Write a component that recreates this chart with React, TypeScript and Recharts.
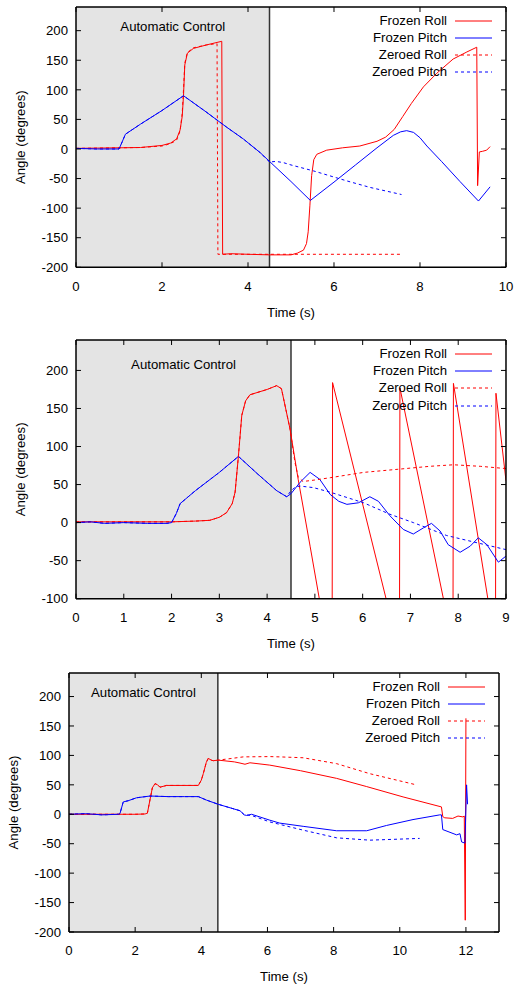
import { LineChart, Line, XAxis, YAxis, ReferenceArea, ReferenceLine } from 'recharts';

type Pt = [number, number];

const FONT = '"Liberation Sans", Arial, Helvetica, sans-serif';
const FS = 13.2;

const seriesNames = ['Frozen Roll', 'Frozen Pitch', 'Zeroed Roll', 'Zeroed Pitch'];
const seriesColors = ['#ff0000', '#0000ff', '#ff0000', '#0000ff'];
const seriesDashed = [false, false, true, true];

// --- panel 1 ---
const p1XTicks = [0, 2, 4, 6, 8, 10];
const p1YTicks = [-200, -150, -100, -50, 0, 50, 100, 150, 200];
const p1FrozenRoll: Pt[] = [
  [0, 1], [0.5, 1.5], [1, 2], [1.5, 2.5], [2, 6], [2.2, 10], [2.34, 17], [2.42, 32], [2.47, 55], [2.5, 90],
  [2.53, 142], [2.59, 162], [2.73, 170], [3.04, 176], [3.39, 182], [3.41, -178], [3.6, -177], [4.0, -178],
  [4.5, -179], [5.0, -179], [5.15, -176], [5.29, -171], [5.36, -160], [5.4, -140], [5.44, -95], [5.48, -45],
  [5.53, -18], [5.6, -9], [5.83, -2], [6.2, 2], [6.6, 5], [7.0, 13], [7.2, 20], [7.4, 33], [7.6, 55], [7.8, 77],
  [8.08, 105], [8.39, 128], [8.77, 152], [9.09, 164], [9.32, 172], [9.34, -62], [9.38, -5], [9.45, -4],
  [9.55, -2], [9.63, 4],
];
const p1FrozenPitch: Pt[] = [
  [0, 1], [0.5, 0], [1.0, 0], [1.05, 8], [1.15, 25], [1.5, 42], [2.0, 65], [2.5, 90], [3.0, 64], [3.5, 37],
  [3.89, 17], [4.28, -6], [4.5, -21], [5.0, -55], [5.45, -87], [6.0, -56], [6.5, -27], [7.0, 2], [7.38, 23],
  [7.55, 29], [7.69, 31], [7.85, 28], [8.0, 19], [8.16, 5], [8.5, -21], [8.93, -55], [9.36, -88], [9.63, -64],
];
const p1ZeroedRoll: Pt[] = [
  [0, 1], [0.5, 1.5], [1, 2], [1.5, 2.5], [2, 5], [2.2, 9], [2.34, 15], [2.42, 30], [2.47, 60], [2.5, 100],
  [2.53, 145], [2.59, 163], [2.73, 171], [3.04, 176], [3.28, 178], [3.3, -178], [4.0, -178], [5.0, -178],
  [6.0, -178], [7.0, -178], [7.55, -178],
];
const p1ZeroedPitch: Pt[] = [
  [0, 1], [0.5, 0], [1.0, 0], [1.05, 8], [1.15, 25], [1.5, 42], [2.0, 65], [2.5, 90], [3.0, 64], [3.5, 37],
  [3.89, 17], [4.28, -6], [4.5, -22], [4.65, -21], [4.82, -23], [5.0, -27], [5.52, -37], [6.3, -54],
  [6.84, -65], [7.57, -77],
];

// --- panel 2 ---
const p2XTicks = [0, 1, 2, 3, 4, 5, 6, 7, 8, 9];
const p2YTicks = [-100, -50, 0, 50, 100, 150, 200];
const p2FrozenRoll: Pt[] = [
  [0, 1], [1, 1], [2, 1], [2.5, 2], [2.8, 3], [3.0, 7], [3.15, 13], [3.27, 25], [3.33, 40], [3.4, 88],
  [3.47, 141], [3.55, 160], [3.64, 168], [4.0, 175], [4.2, 180], [4.3, 176], [4.48, 123], [4.65, 57],
  [4.9, -31], [5.09, -99], [5.36, -185], [5.37, 184], [6.49, -100], [6.77, -174], [6.78, 177], [7.69, -100],
  [7.89, -165], [7.9, 183], [8.62, -100], [8.78, -165], [8.79, 170], [9.0, 55],
];
const p2FrozenPitch: Pt[] = [
  [0, 0], [0.3, 1], [0.6, -1], [1.0, 0], [1.5, -1], [1.9, -1], [2.0, 0], [2.1, 12], [2.18, 25], [2.5, 42],
  [3.0, 66], [3.4, 87], [3.8, 64], [4.2, 42], [4.41, 34], [4.5, 38], [4.69, 53], [4.9, 66], [5.1, 57],
  [5.32, 37], [5.5, 28], [5.67, 24], [5.91, 26], [6.15, 34], [6.33, 28], [6.57, 9], [6.85, -9], [7.06, -15],
  [7.27, -7], [7.44, -1], [7.62, -11], [7.79, -29], [8.04, -39], [8.25, -31], [8.42, -20], [8.6, -29],
  [8.84, -52], [9.0, -44],
];
const p2ZeroedRoll: Pt[] = [
  [0, 1], [1, 1], [2, 1], [2.5, 2], [2.8, 3], [3.0, 7], [3.15, 13], [3.27, 25], [3.33, 40], [3.4, 88],
  [3.47, 141], [3.55, 160], [3.64, 168], [4.0, 175], [4.2, 180], [4.3, 176], [4.48, 123], [4.58, 80],
  [4.65, 60], [4.75, 54], [5.0, 56], [5.32, 59], [6.02, 66], [6.72, 70], [7.41, 74], [7.9, 76], [8.46, 74],
  [9.0, 71],
];
const p2ZeroedPitch: Pt[] = [
  [0, 0], [0.3, 1], [0.6, -1], [1.0, 0], [1.5, -1], [1.9, -1], [2.0, 0], [2.1, 12], [2.18, 25], [2.5, 42],
  [3.0, 66], [3.4, 87], [3.8, 64], [4.2, 42], [4.41, 34], [4.5, 42], [4.6, 47], [4.69, 48], [4.97, 46],
  [5.32, 40], [6.02, 26], [6.57, 11], [7.06, 0], [7.76, -17], [8.46, -27.5], [9.0, -35.5],
];

// --- panel 3 ---
const p3XTicks = [0, 2, 4, 6, 8, 10, 12];
const p3YTicks = [-200, -150, -100, -50, 0, 50, 100, 150, 200];
const p3FrozenRoll: Pt[] = [
  [0, 0], [1, 0], [2, 0], [2.3, 0.5], [2.37, 2], [2.45, 25], [2.52, 45], [2.6, 52], [2.68, 50], [2.75, 46],
  [2.95, 49], [3.5, 49], [3.91, 49], [4.0, 58], [4.06, 69], [4.15, 88], [4.21, 95], [4.3, 92], [4.36, 91],
  [4.51, 92], [5.0, 89], [5.17, 87], [5.32, 85], [5.47, 87.5], [6.07, 83.5], [7.0, 74], [8.09, 61], [9.0, 47],
  [10.1, 29.5], [11.26, 12.5], [11.3, -4], [11.36, -6], [11.6, -7], [11.76, -3], [11.91, -4.5], [11.95, -3],
  [11.98, -180], [12.0, 163],
];
const p3FrozenPitch: Pt[] = [
  [0, 0], [0.5, 1], [1.0, -1], [1.5, 0], [1.54, 1], [1.64, 21], [1.79, 23], [2.04, 28], [2.45, 31], [3.0, 30],
  [3.5, 30], [3.91, 30], [4.16, 24], [4.51, 17], [5.17, 6], [5.3, -1], [5.37, -2], [5.52, 0], [6.07, -10],
  [6.37, -15], [7.08, -20.5], [8.09, -28], [9.0, -28], [9.6, -19], [10.4, -9], [11.21, -1], [11.26, -1],
  [11.3, -26], [11.72, -35], [11.82, -33], [11.87, -47], [11.97, -49], [12.02, 50], [12.05, 17],
];
const p3ZeroedRoll: Pt[] = [
  [0, 0], [1, 0], [2, 0], [2.3, 0.5], [2.37, 2], [2.45, 25], [2.52, 45], [2.6, 52], [2.68, 50], [2.75, 46],
  [2.95, 49], [3.5, 49], [3.91, 49], [4.0, 58], [4.06, 69], [4.15, 88], [4.21, 95], [4.3, 92], [4.36, 91],
  [4.51, 92], [4.8, 94], [5.27, 97.5], [6.07, 98], [6.37, 97.5], [7.08, 96], [8.09, 86], [9.09, 69],
  [10.5, 50],
];
const p3ZeroedPitch: Pt[] = [
  [0, 0], [0.5, 1], [1.0, -1], [1.5, 0], [1.54, 1], [1.64, 21], [1.79, 23], [2.04, 28], [2.45, 31], [3.0, 30],
  [3.5, 30], [3.91, 30], [4.16, 24], [4.51, 17], [5.17, 6], [5.3, -1], [5.52, -2], [6.07, -13], [7.08, -27],
  [8.09, -40], [9.09, -44], [10.6, -41],
];

const toRows = (pts: Pt[]) => pts.map(([t, v]) => ({ t, v }));

type PanelProps = {
  plotTop: number;
  plotLeft: number;
  plotRight: number;
  plotHeight: number;
  xMax: number;
  xTicks: number[];
  yMin: number;
  yTicks: number[];
  series: Pt[][];
  autoOffset: number;
};

const AXIS_LINE = { stroke: '#000', strokeWidth: 1.5 };
const TICK_LINE = { stroke: '#000', strokeWidth: 1 };
const noTick = () => <g />;

function LegendBox({ plotRight }: { plotRight: number }) {
  return (
    <div style={{ position: 'absolute', top: 0, left: 0, width: 521, pointerEvents: 'none' }}>
      {seriesNames.map((name, i) => (
        <div
          key={name}
          style={{ position: 'absolute', top: 7 + 14 + i * 17.2 - 9, left: 0, width: plotRight - 14, height: 18, display: 'flex', alignItems: 'center', justifyContent: 'flex-end' }}
        >
          <span style={{ fontSize: FS, color: '#000', lineHeight: '18px' }}>{name}</span>
          <svg width={45} height={18} style={{ display: 'block' }}>
            <line x1={8} x2={45} y1={9} y2={9} stroke={seriesColors[i]} strokeWidth={1} strokeDasharray={seriesDashed[i] ? '3 3' : undefined} />
          </svg>
        </div>
      ))}
    </div>
  );
}

function Panel({ plotTop, plotLeft, plotRight, plotHeight, xMax, xTicks, yMin, yTicks, series, autoOffset }: PanelProps) {
  const axisH = 55;
  const height = 7 + plotHeight + axisH;
  const domainX: [number, number] = [0, xMax];
  const domainY: [number, number] = [yMin, 240];
  return (
    <div style={{ position: 'absolute', left: 0, top: plotTop - 7, width: 521, height }}>
      <LineChart width={521} height={height} margin={{ top: 6, right: 521 - plotRight - 1, bottom: 0, left: 0 }}>
        <ReferenceArea
          xAxisId="b"
          yAxisId="l"
          x1={0}
          x2={4.5}
          fill="#e4e4e4"
          fillOpacity={1}
          stroke="none"
          label={{ value: 'Automatic Control', position: 'insideTop', offset: autoOffset, fill: '#000', fontSize: FS }}
        />
        <XAxis
          xAxisId="b"
          type="number"
          dataKey="t"
          domain={domainX}
          ticks={xTicks}
          interval={0}
          allowDataOverflow
          height={axisH}
          tickSize={-5}
          tickMargin={19}
          axisLine={AXIS_LINE}
          tickLine={TICK_LINE}
          tick={{ fill: '#000', fontSize: FS }}
          label={{ value: 'Time (s)', position: 'insideBottom', offset: axisH - 49.3, fill: '#000', fontSize: FS }}
        />
        <XAxis
          xAxisId="t"
          orientation="top"
          type="number"
          dataKey="t"
          domain={domainX}
          ticks={xTicks}
          interval={0}
          allowDataOverflow
          height={1}
          tickSize={-5}
          axisLine={AXIS_LINE}
          tickLine={TICK_LINE}
          tick={noTick}
        />
        <YAxis
          yAxisId="l"
          type="number"
          domain={domainY}
          ticks={yTicks}
          interval={0}
          allowDataOverflow
          width={plotLeft}
          tickSize={-5}
          tickMargin={13}
          axisLine={AXIS_LINE}
          tickLine={TICK_LINE}
          tick={{ fill: '#000', fontSize: FS }}
          label={{ value: 'Angle (degrees)', angle: -90, position: 'insideLeft', offset: plotLeft - 56, fill: '#000', fontSize: FS, style: { textAnchor: 'middle' } }}
        />
        <YAxis
          yAxisId="r"
          orientation="right"
          type="number"
          domain={domainY}
          ticks={yTicks}
          interval={0}
          allowDataOverflow
          width={1}
          tickSize={-5}
          axisLine={AXIS_LINE}
          tickLine={TICK_LINE}
          tick={noTick}
        />
        <ReferenceLine xAxisId="b" yAxisId="l" x={4.5} stroke="#333" strokeWidth={1.5} />
        {series.map((pts, i) => (
          <Line
            key={seriesNames[i]}
            xAxisId="b"
            yAxisId="l"
            data={toRows(pts)}
            dataKey="v"
            name={seriesNames[i]}
            type="linear"
            stroke={seriesColors[i]}
            strokeWidth={1}
            strokeDasharray={seriesDashed[i] ? '3 3' : undefined}
            dot={false}
            activeDot={false}
            isAnimationActive={false}
          />
        ))}
      </LineChart>
      <LegendBox plotRight={plotRight} />
    </div>
  );
}

export default function App() {
  return (
    <div style={{ position: 'absolute', left: 0, top: 0, width: 521, height: 986, overflow: 'hidden', background: '#fff', fontFamily: FONT }}>
      <Panel
        plotTop={6.7}
        plotLeft={76}
        plotRight={506}
        plotHeight={260.3}
        xMax={10}
        xTicks={p1XTicks}
        yMin={-200}
        yTicks={p1YTicks}
        series={[p1FrozenRoll, p1FrozenPitch, p1ZeroedRoll, p1ZeroedPitch]}
        autoOffset={15}
      />
      <Panel
        plotTop={340}
        plotLeft={76}
        plotRight={506}
        plotHeight={258.7}
        xMax={9}
        xTicks={p2XTicks}
        yMin={-100}
        yTicks={p2YTicks}
        series={[p2FrozenRoll, p2FrozenPitch, p2ZeroedRoll, p2ZeroedPitch]}
        autoOffset={19.5}
      />
      <Panel
        plotTop={672.7}
        plotLeft={69}
        plotRight={499}
        plotHeight={259}
        xMax={13}
        xTicks={p3XTicks}
        yMin={-200}
        yTicks={p3YTicks}
        series={[p3FrozenRoll, p3FrozenPitch, p3ZeroedRoll, p3ZeroedPitch]}
        autoOffset={15}
      />
    </div>
  );
}
